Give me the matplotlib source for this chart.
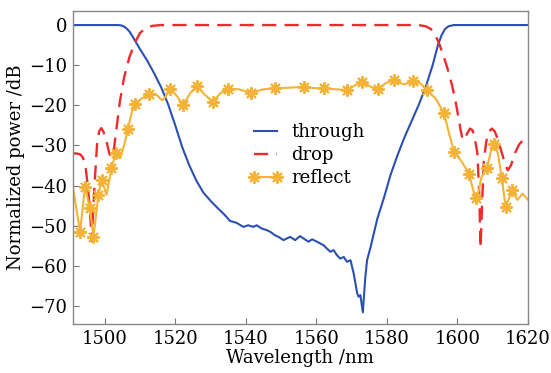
import matplotlib
matplotlib.use("Agg")
import matplotlib.pyplot as plt

# ---------------- data ----------------
through_wl = [1491, 1500, 1503.5, 1504.5, 1505.3, 1506, 1507, 1508, 1510, 1512, 1514, 1516, 1518, 1520,
              1522, 1524, 1526, 1528, 1530, 1532, 1534, 1535.5, 1537.4, 1539.3, 1540.7,
              1542.1, 1543.1, 1544.5, 1545.9, 1546.9, 1548.3, 1549.3, 1550.7, 1551.6,
              1552.6, 1554.0, 1555.4, 1556.4, 1557.8, 1558.8, 1560.2, 1562.1, 1563.0,
              1564.0, 1564.9, 1565.9, 1566.8, 1567.8, 1568.7, 1569.7, 1570.6, 1571.6,
              1572.0, 1572.5, 1573.2, 1573.9, 1574.4, 1575.4, 1577.3, 1579.2, 1581.0,
              1583, 1585, 1587, 1589, 1591, 1593, 1594.5, 1595.5, 1596.5, 1597.5, 1599, 1620]
through_db = [0, 0, 0, -0.05, -0.3, -0.7, -1.6, -3.0, -6.0, -8.8, -12.0, -15.5, -19.8, -25.0,
              -30.5, -35.0, -38.8, -41.8, -43.8, -45.6, -47.3, -48.8, -49.3, -50.3, -49.9,
              -50.3, -49.9, -50.7, -51.1, -51.5, -52.4, -52.8, -53.6, -53.2,
              -52.8, -53.6, -52.6, -53.2, -54.0, -53.4, -54.0, -54.9, -55.7,
              -56.5, -56.1, -57.4, -58.2, -57.8, -59.0, -58.6, -61.9, -66.9,
              -67.7, -67.3, -71.6, -62.8, -58.6, -55.3, -48.3, -43.0, -37.5,
              -32.5, -28.0, -24.0, -20.0, -15.5, -10.0, -5.0, -2.6, -1.0, -0.3, 0, 0]

drop_wl = [1491, 1492, 1493, 1493.8, 1494.5, 1495.2, 1495.8, 1496.3, 1496.8, 1497.3, 1497.8,
           1498.4, 1499, 1499.6, 1500.5, 1501.3, 1502, 1502.6, 1503.3, 1504.3, 1505.5,
           1507, 1508.5, 1510, 1511.5, 1513.5, 1516, 1589, 1591, 1592.5, 1593.8, 1595,
           1596.2, 1597.2, 1598.5, 1599.5, 1600.4, 1601, 1601.5, 1602, 1602.8, 1603.6,
           1604.3, 1605, 1605.7, 1606.2, 1606.6, 1607, 1607.5, 1608.2, 1609, 1609.8,
           1610.6, 1611.5, 1612.5, 1613.5, 1614.3, 1615.2, 1616.3, 1617.5, 1618.5, 1620]
drop_db = [-32, -32, -32.2, -33, -35, -40, -46, -53.8, -45, -37, -30,
           -26.5, -25.7, -26.5, -29, -32, -33, -31, -26, -19, -13,
           -8, -4.5, -2, -0.8, -0.2, 0, 0, -0.3, -1, -2.5, -5,
           -8, -10.8, -15, -19, -23.5, -26.5, -28.5, -28.6, -27, -25.8,
           -26.2, -28.5, -32, -42, -55.5, -45, -34, -29, -26.5, -25.8,
           -26.5, -28.5, -31.5, -34.5, -36.2, -35, -32, -29.8, -28.8, -28.5]

reflect_wl = [1491.0, 1492.0, 1493.0, 1493.7, 1494.4, 1495.8, 1496.8, 1498.2, 1499.1, 1500.5,
              1501.9, 1503.1, 1504.3, 1505.5, 1506.6, 1507.6, 1508.5, 1510.5, 1512.5, 1514.5,
              1516.3, 1517.3, 1518.5, 1520.3, 1522.3, 1524.2, 1526.1, 1528.3, 1530.6, 1532.8,
              1535.0, 1538.0, 1541.4, 1545.0, 1548.3, 1552.3, 1556.4, 1559.3, 1562.1, 1565.4,
              1568.7, 1571.0, 1573.0, 1575.2, 1577.5, 1579.7, 1582.0, 1584.8, 1587.5, 1589.6,
              1591.4, 1594.0, 1596.2, 1597.8, 1599.1, 1601.2, 1603.3, 1604.3, 1605.2, 1605.8,
              1606.8, 1608.4, 1609.5, 1610.5, 1611.5, 1612.6, 1613.7, 1614.5, 1615.6, 1617.0,
              1618.5, 1620.0]
reflect_db = [-40.5, -46.0, -51.5, -46.0, -40.3, -45.7, -52.8, -42.4, -38.5, -42.3,
              -35.7, -32.0, -33.2, -30.0, -25.8, -22.0, -19.6, -18.3, -17.3, -17.2,
              -18.8, -17.8, -16.0, -17.5, -20.0, -17.0, -15.2, -17.3, -19.1, -17.0,
              -15.9, -16.0, -16.9, -16.0, -15.8, -15.6, -15.4, -15.7, -15.8, -16.0,
              -16.2, -15.0, -14.1, -15.3, -16.0, -14.5, -13.6, -14.8, -14.0, -14.6,
              -16.2, -18.5, -22.0, -27.5, -31.6, -34.0, -37.0, -40.5, -43.2, -42.5,
              -38.0, -35.7, -31.5, -29.7, -32.0, -38.2, -45.3, -43.5, -41.2, -43.6,
              -42.0, -43.5]
# indices of the points that carry a marker
reflect_marker_idx = [2, 4, 5, 6, 7, 8, 10, 11, 14, 16, 18, 22, 24, 26, 28, 30, 32, 34, 36,
                      38, 40, 42, 44, 46, 48, 50, 52, 54, 56, 58, 61, 63, 65, 66, 68]

xticks = [1500, 1520, 1540, 1560, 1580, 1600, 1620]
yticks = [0, -10, -20, -30, -40, -50, -60, -70]
labels = ["through", "drop", "reflect"]

# ---------------- plot ----------------
plt.rcParams['font.family'] = ['DejaVu Serif']
plt.rcParams['mathtext.fontset'] = 'dejavuserif'

fig = plt.figure(figsize=(5.51, 3.73), dpi=100)
ax = fig.add_axes([0.1325, 0.1314, 0.8255, 0.8391])

c_through = '#2b4fb3'
c_drop = '#ee2a2f'
c_reflect = '#f4b236'

ax.plot(through_wl, through_db, color=c_through, lw=1.5, label=labels[0])
ax.plot(drop_wl, drop_db, color=c_drop, lw=1.7, dashes=(6, 3.5), label=labels[1])
ax.plot(reflect_wl, reflect_db, color=c_reflect, lw=1.5, marker=(8, 2, 0), ms=9,
        mew=1.4, markevery=reflect_marker_idx, label=labels[2])

ax.set_xlim(1491, 1620)
ax.set_ylim(-74.5, 3.5)
ax.set_xticks(xticks)
ax.set_yticks(yticks)
ax.set_yticklabels([str(v).replace('-', '\u2212') for v in yticks])
ax.tick_params(direction='in', length=4, width=0.8, color='#777777', labelsize=13,
               top=False, right=False, pad=4)
for s in ax.spines.values():
    s.set_color('#888888')
    s.set_linewidth(1.0)

ax.set_xlabel('Wavelength /nm', fontsize=13, labelpad=1)
ax.set_ylabel('Normalized power /dB', fontsize=13, labelpad=3)

ax.legend(loc='upper left', bbox_to_anchor=(0.37, 0.665), frameon=False, fontsize=13,
          handlelength=1.9, handletextpad=0.45, labelspacing=0.28, numpoints=2,
          borderaxespad=0)

fig.savefig('out.png', dpi=100)
